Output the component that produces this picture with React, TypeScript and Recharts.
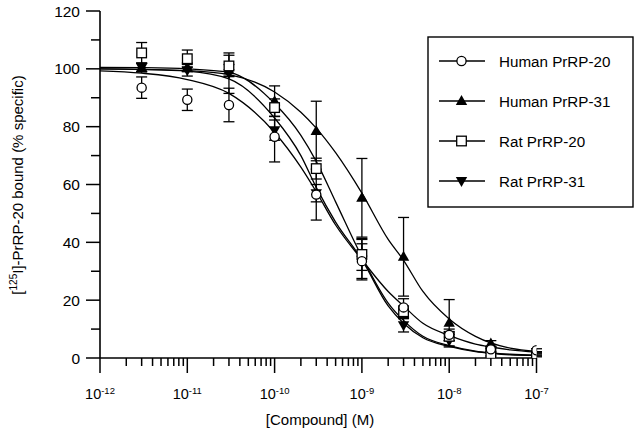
import React from "react";
import {
  ComposedChart,
  Line,
  Scatter,
  ErrorBar,
  XAxis,
  YAxis,
  Legend,
  Label,
} from "recharts";

const FONT = "'Liberation Sans', Arial, sans-serif";

// doses where the points were measured (M)
const doses = [3e-12, 1e-11, 3e-11, 1e-10, 3e-10, 1e-9, 3e-9, 1e-8, 3e-8, 1e-7];

const human20 = [93.5, 89.3, 87.5, 76.5, 56.5, 33.5, 17.5, 8, 3, 2.7];
const human20Err = [3.7, 3.7, 5.8, 8.7, 8.8, 6, 3, 2, 1, 0.5];
const human31 = [100.5, 100.5, 99.5, 88.8, 78.5, 55.4, 35, 12.2, 5, 1.5];
const human31Err = [1.5, 1.5, 2, 5.3, 10.3, 13.6, 13.6, 8, 1, 0.5];
const rat20 = [105.5, 103.5, 101, 86.6, 65.5, 35.8, 16, 7.5, 1.5, 0.9];
const rat20Err = [3.6, 3, 3.7, 3, 3.6, 5.5, 2, 1.5, 0.8, 0.5];
const rat31 = [100.5, 99.5, 98.5, 78.8, 57, 34, 11.3, 6, 2.5, 1.2];
const rat31Err = [1.5, 2, 7, 3.5, 3, 7, 2.3, 2.2, 0.8, 0.5];

// fitted curves
const curveX = [
  1e-12, 3e-12, 1e-11, 3e-11, 1e-10, 2e-10, 3e-10, 5e-10, 1e-9, 2e-9, 3e-9,
  5e-9, 1e-8, 2e-8, 3e-8, 5e-8, 1e-7,
];
const human20Fit = [99.3, 98.5, 96.3, 91.5, 78, 66, 57.5, 46, 34, 23, 18, 12, 7.8, 4.8, 3.8, 2.8, 2];
const human31Fit = [100, 99.8, 99.4, 98, 92, 85, 79.5, 71, 57, 41, 33.8, 23, 13.5, 7.5, 5.2, 3.4, 2.3];
const rat20Fit = [100.5, 100.4, 100, 98.8, 88, 77, 68, 54, 35, 19, 13, 7.5, 4.3, 2.4, 1.8, 1.3, 1];
const rat31Fit = [100, 99.8, 99.2, 96.5, 83, 70, 59, 47, 34, 18, 12, 7, 4, 2.2, 1.6, 1.1, 0.9];

const seriesNames = ["Human PrRP-20", "Human PrRP-31", "Rat PrRP-20", "Rat PrRP-31"];
const markerKinds = ["circle", "up", "square", "down"];

const xTicks: number[] = [];
for (let e = -12; e <= -8; e++) {
  for (let m = 1; m <= 9; m++) xTicks.push(m * Math.pow(10, e));
}
xTicks.push(1e-7);
const yTicks = [0, 10, 20, 30, 40, 50, 60, 70, 80, 90, 100, 110, 120];

const points = (ys: number[], errs: number[]) =>
  doses.map((x, i) => ({ x, y: ys[i], err: errs[i] }));
const curve = (ys: number[]) => curveX.map((x, i) => ({ x, y: ys[i] }));

const Marker = ({ kind, cx, cy }: { kind: string; cx: number; cy: number }) => {
  if (kind === "circle")
    return <circle cx={cx} cy={cy} r={4.6} fill="#fff" stroke="#000" strokeWidth={1.3} />;
  if (kind === "square")
    return (
      <rect x={cx - 4.8} y={cy - 4.8} width={9.6} height={9.6} fill="#fff" stroke="#000" strokeWidth={1.3} />
    );
  if (kind === "up")
    return (
      <polygon points={`${cx},${cy - 6} ${cx - 5.7},${cy + 4} ${cx + 5.7},${cy + 4}`} fill="#000" />
    );
  return (
    <polygon points={`${cx - 5.7},${cy - 4} ${cx + 5.7},${cy - 4} ${cx},${cy + 6}`} fill="#000" />
  );
};

const shapeOf = (kind: string) => (props: any) =>
  <Marker kind={kind} cx={props.cx} cy={props.cy} />;

const XTick = ({ x, y, payload }: any) => {
  const e = Math.log10(payload.value);
  const major = Math.abs(e - Math.round(e)) < 1e-6;
  return (
    <g>
      <line x1={x} x2={x} y1={y} y2={y + (major ? 15 : 8)} stroke="#000" strokeWidth={1.5} />
      {major && (
        <text x={x} y={y + 41} textAnchor="middle" fontFamily={FONT} fontSize={14.5} fill="#000">
          <tspan>10</tspan>
          <tspan dy={-5} fontSize={9.5}>{Math.round(e)}</tspan>
        </text>
      )}
    </g>
  );
};

const YTick = ({ x, y, payload }: any) => {
  const major = payload.value % 20 === 0;
  return (
    <g>
      <line x1={x - (major ? 14 : 9)} x2={x} y1={y} y2={y} stroke="#000" strokeWidth={1.5} />
      {major && (
        <text x={x - 20} y={y + 5.5} textAnchor="end" fontFamily={FONT} fontSize={15.5} fill="#000">
          {payload.value}
        </text>
      )}
    </g>
  );
};

const YLabel = () => (
  <text
    x={23}
    y={185}
    transform="rotate(-90, 23, 185)"
    textAnchor="middle"
    fontFamily={FONT}
    fontSize={15}
    fill="#000"
  >
    <tspan>[</tspan>
    <tspan dy={-6} fontSize={10}>125</tspan>
    <tspan dy={6}>I]-PrRP-20 bound (% specific)</tspan>
  </text>
);

const LegendBox = () => (
  <svg width={207} height={172} style={{ display: "block" }}>
    <rect x={1} y={1} width={205} height={170} fill="#fff" stroke="#000" strokeWidth={1.4} />
    {seriesNames.map((name, i) => {
      const cy = 25 + i * 40;
      return (
        <g key={name}>
          <line x1={12} x2={58} y1={cy} y2={cy} stroke="#000" strokeWidth={1.3} />
          <Marker kind={markerKinds[i]} cx={34.5} cy={cy} />
          <text x={72} y={cy + 5.5} fontFamily={FONT} fontSize={15.2} fill="#000">
            {name}
          </text>
        </g>
      );
    })}
  </svg>
);

const fits = [human20Fit, human31Fit, rat20Fit, rat31Fit];
const scatters = [
  points(rat31, rat31Err),
  points(human31, human31Err),
  points(rat20, rat20Err),
  points(human20, human20Err),
];
const scatterKinds = ["down", "up", "square", "circle"];

export default function App() {
  return (
    <div style={{ position: "absolute", left: 0, top: 0, background: "#fff" }}>
      <ComposedChart
        width={640}
        height={433}
        margin={{ top: 11, right: 103.5, bottom: 45, left: 40 }}
      >
        <XAxis
          type="number"
          dataKey="x"
          scale="log"
          domain={[1e-12, 1e-7]}
          ticks={xTicks}
          interval={0}
          allowDataOverflow
          height={30}
          tickSize={0}
          tickMargin={0}
          tickLine={false}
          tick={<XTick />}
          axisLine={{ stroke: "#000", strokeWidth: 1.6 }}
        >
          <Label
            content={() => (
              <text x={320} y={425} textAnchor="middle" fontFamily={FONT} fontSize={15} fill="#000">
                [Compound] (M)
              </text>
            )}
          />
        </XAxis>
        <YAxis
          type="number"
          domain={[0, 120]}
          ticks={yTicks}
          interval={0}
          allowDataOverflow
          width={60}
          tickSize={0}
          tickMargin={0}
          tickLine={false}
          tick={<YTick />}
          axisLine={{ stroke: "#000", strokeWidth: 1.6 }}
        >
          <Label content={() => <YLabel />} />
        </YAxis>
        {fits.map((f, i) => (
          <Line
            key={"fit" + i}
            data={curve(f)}
            dataKey="y"
            type="monotone"
            stroke="#000"
            strokeWidth={1.3}
            dot={false}
            activeDot={false}
            isAnimationActive={false}
            legendType="none"
          />
        ))}
        {scatters.map((d, i) => (
          <Scatter
            key={"pts" + i}
            data={d}
            dataKey="y"
            shape={shapeOf(scatterKinds[i])}
            isAnimationActive={false}
            legendType="none"
          >
            <ErrorBar dataKey="err" direction="y" width={5.5} stroke="#000" strokeWidth={1.3} />
          </Scatter>
        ))}
        <Legend
          layout="vertical"
          align="center"
          verticalAlign="middle"
          content={() => <LegendBox />}
          wrapperStyle={{ position: "absolute", left: 427, top: 36, width: 207, height: 172 }}
        />
      </ComposedChart>
    </div>
  );
}
